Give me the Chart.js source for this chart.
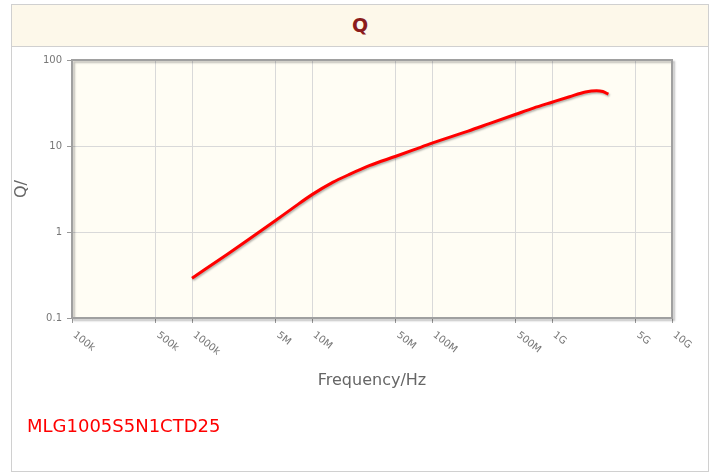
<!DOCTYPE html>
<html>
<head>
<meta charset="utf-8">
<script src="https://cdn.jsdelivr.net/npm/chart.js@4"></script>
<style>
  html, body { margin: 0; padding: 0; background: #fff; }
  body { width: 717px; height: 474px; position: relative; overflow: hidden; font-family: 'DejaVu Sans', sans-serif; }
  #panel { position: absolute; left: 11px; top: 4px; width: 698px; height: 468px; border: 1px solid #d0d0d0; box-sizing: border-box; }
  #head { position: absolute; left: 11px; top: 4px; width: 698px; height: 43px; background: #fdf8ea; border: 1px solid #d0d0d0; box-sizing: border-box;
          text-align: center; line-height: 41px; font-weight: bold; font-size: 19px; color: #8b1c1c; }
  #part { position: absolute; left: 27px; top: 415px; font-size: 18px; color: #ff0000; }
  #wrap { position: absolute; left: 0; top: 0; width: 717px; height: 474px; }
</style>
</head>
<body>
<div id="panel"></div>
<div id="head">Q</div>
<div id="wrap"><canvas id="chart"></canvas></div>
<div id="part">MLG1005S5N1CTD25</div>
<script>
// Q vs frequency
const freqHz = [1e6, 2e6, 3e6, 5e6, 7e6, 1e7, 1.5e7, 2e7, 3e7, 5e7, 7e7, 1e8,
                2e8, 3e8, 5e8, 7e8, 1e9, 1.4e9, 1.9e9, 2.35e9, 2.65e9, 2.95e9];
const qValues = [0.29, 0.56, 0.83, 1.37, 1.92, 2.72, 3.8, 4.6, 5.9, 7.6, 9.0, 10.8,
                 14.9, 18.2, 23.4, 27.6, 32.3, 37.4, 42.5, 44.0, 43.0, 40.0];

const xTickValues = [1e5, 5e5, 1e6, 5e6, 1e7, 5e7, 1e8, 5e8, 1e9, 5e9, 1e10];
const xTickLabels = ['100k', '500k', '1000k', '5M', '10M', '50M', '100M', '500M', '1G', '5G', '10G'];
const yTickValues = [0.1, 1, 10, 100];
const yTickLabels = ['0.1', '1', '10', '100'];

const gridColor = '#d9d9d9';
const tickColor = '#777';

const plotFrame = {
  id: 'plotFrame',
  beforeDraw(chart){
    const a = chart.chartArea, ctx = chart.ctx;
    ctx.save();
    ctx.fillStyle = '#fffdf4';
    ctx.fillRect(a.left, a.top, a.right - a.left, a.bottom - a.top);
    ctx.restore();
  },
  afterDraw(chart){
    const a = chart.chartArea, ctx = chart.ctx;
    ctx.save();
    ctx.shadowColor = 'rgba(0,0,0,0.25)';
    ctx.shadowOffsetX = 2; ctx.shadowOffsetY = 2; ctx.shadowBlur = 2;
    ctx.strokeStyle = '#a0a0a0';
    ctx.lineWidth = 2;
    ctx.strokeRect(a.left, a.top, a.right - a.left, a.bottom - a.top);
    ctx.restore();
    // rotated x tick labels (down-right)
    const sx = chart.scales.x;
    ctx.save();
    ctx.fillStyle = tickColor;
    ctx.font = '10px "DejaVu Sans"';
    ctx.textAlign = 'left';
    ctx.textBaseline = 'middle';
    xTickValues.forEach((v, i) => {
      const px = sx.getPixelForValue(v);
      ctx.save();
      ctx.translate(px + 2, a.bottom + 16);
      ctx.rotate(38 * Math.PI / 180);
      ctx.fillText(xTickLabels[i], 0, 0);
      ctx.restore();
    });
    ctx.restore();
  }
};

const lineShadow = {
  id: 'lineShadow',
  beforeDatasetsDraw(chart){
    const ctx = chart.ctx;
    ctx.save();
    ctx.shadowColor = 'rgba(0,0,0,0.3)';
    ctx.shadowOffsetX = 1; ctx.shadowOffsetY = 1.5; ctx.shadowBlur = 2;
  },
  afterDatasetsDraw(chart){ chart.ctx.restore(); }
};

new Chart(document.getElementById('chart'), {
  type: 'line',
  data: {
    datasets: [{
      data: freqHz.map((f, i) => ({ x: f, y: qValues[i] })),
      borderColor: '#ff0000',
      borderWidth: 3,
      pointRadius: 0,
      fill: false,
      cubicInterpolationMode: 'monotone'
    }]
  },
  options: {
    responsive: true, maintainAspectRatio: false, animation: false,
    layout: { padding: { left: 8, top: 60, right: 45, bottom: 80 } },
    plugins: { legend: { display: false }, tooltip: { enabled: false } },
    scales: {
      x: {
        type: 'logarithmic', min: 1e5, max: 1e10,
        afterBuildTicks: s => { s.ticks = xTickValues.map(v => ({ value: v })); },
        afterFit: s => { s.height = 76; },
        ticks: { display: false },
        grid: { color: gridColor, lineWidth: 1, tickLength: 5, tickColor: '#999' },
        border: { display: false },
        title: { display: true, text: 'Frequency/Hz', color: '#666', font: { family: 'DejaVu Sans', size: 16 }, padding: 4 }
      },
      y: {
        type: 'logarithmic', min: 0.1, max: 100,
        afterBuildTicks: s => { s.ticks = yTickValues.map(v => ({ value: v })); },
        afterFit: s => { s.width = 64; },
        ticks: {
          color: tickColor, font: { family: 'DejaVu Sans', size: 10 }, padding: 5,
          callback: (v) => { const i = yTickValues.indexOf(v); return i >= 0 ? yTickLabels[i] : ''; }
        },
        grid: { color: gridColor, lineWidth: 1, tickLength: 5, tickColor: '#999' },
        border: { display: false },
        title: { display: true, text: 'Q/', color: '#666', font: { family: 'DejaVu Sans', size: 16 }, padding: 4 }
      }
    }
  },
  plugins: [plotFrame, lineShadow]
});
</script>
</body>
</html>
